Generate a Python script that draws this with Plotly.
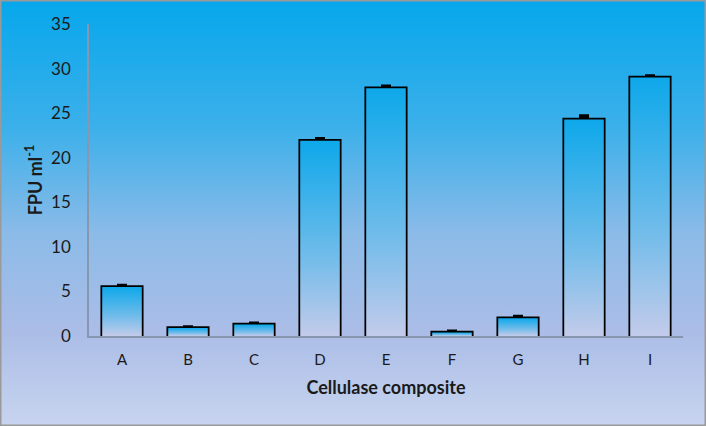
import base64
import plotly.graph_objects as go

# ---- data ----
categories = ["A", "B", "C", "D", "E", "F", "G", "H", "I"]
values = [5.5, 0.9, 1.3, 21.9, 27.8, 0.4, 2.0, 24.3, 29.0]
errors = [0.15, 0.08, 0.1, 0.2, 0.2, 0.1, 0.15, 0.35, 0.15]
y_ticks = [0, 5, 10, 15, 20, 25, 30, 35]

W, H = 706, 426
positions = list(range(len(categories)))
BAR_W = 0.6

fig = go.Figure()

# gradient fill of each bar (scatter area with vertical gradient)
for i, v in zip(positions, values):
    fig.add_trace(go.Scatter(
        x=[i - BAR_W / 2, i + BAR_W / 2, i + BAR_W / 2, i - BAR_W / 2, i - BAR_W / 2],
        y=[0, 0, v, v, 0],
        mode="lines", line=dict(width=0), fill="toself",
        fillgradient=dict(type="vertical",
                          colorscale=[[0, "#c3cbea"], [0.4, "#72bcea"], [1, "#0ea8ea"]]),
        hoverinfo="skip", showlegend=False))

# outlined bars with error bars
fig.add_trace(go.Bar(
    x=positions, y=values, width=BAR_W,
    marker=dict(color="rgba(0,0,0,0)", line=dict(color="black", width=3.5)),
    error_y=dict(type="data", array=errors, visible=True, color="black",
                 thickness=4, width=5),
    showlegend=False))

# background gradient as an SVG image covering the whole figure
svg = f'''<svg xmlns="http://www.w3.org/2000/svg" width="{W}" height="{H}" preserveAspectRatio="none">
<defs><linearGradient id="g" x1="0" y1="0" x2="0" y2="1">
<stop offset="0" stop-color="#06a7ec"/>
<stop offset="0.3" stop-color="#3cb0ea"/>
<stop offset="0.55" stop-color="#8cbbe8"/>
<stop offset="0.78" stop-color="#abbde7"/>
<stop offset="1" stop-color="#c8d4ef"/>
</linearGradient></defs>
<rect width="{W}" height="{H}" fill="url(#g)"/>
</svg>'''
src = "data:image/svg+xml;base64," + base64.b64encode(svg.encode()).decode()

x0, x1 = 89 / W, 683 / W
y0, y1 = (H - 336) / H, (H - 24) / H

fig.update_layout(
    width=W, height=H,
    margin=dict(l=0, r=0, t=0, b=0, autoexpand=False),
    paper_bgcolor="#c9d5ef", plot_bgcolor="rgba(0,0,0,0)",
    font=dict(family="Lato, 'Open Sans', sans-serif", color="#1a1a1a", size=16),
    bargap=0.4,
    images=[dict(source=src, xref="paper", yref="paper", x=0, y=1,
                 sizex=1, sizey=1, sizing="stretch", layer="below",
                 xanchor="left", yanchor="top")],
    xaxis=dict(domain=[x0, x1], range=[-0.5, len(categories) - 0.5],
               tickmode="array", tickvals=positions, ticktext=categories,
               tickfont=dict(size=15), automargin=False,
               showgrid=False, zeroline=False, showline=True,
               linecolor="#8797b0", linewidth=1.5, ticks="", ticklabelstandoff=9,
               title=dict(text="<b>Cellulase composite</b>", font=dict(size=18),
                          standoff=15)),
    yaxis=dict(domain=[y0, y1], range=[0, 35], tickmode="array", tickvals=y_ticks,
               tickfont=dict(size=17), automargin=False,
               showgrid=False, zeroline=False, showline=True,
               linecolor="#8797b0", linewidth=1.5, ticks="", ticklabelstandoff=13,
               title=dict(text="<b>FPU ml<sup>-1</sup></b>", font=dict(size=18),
                          standoff=4)),
    shapes=[dict(type="rect", xref="paper", yref="paper", x0=0, x1=1, y0=0, y1=1,
                 line=dict(color="#9a9a9a", width=3), fillcolor="rgba(0,0,0,0)")],
)

post = (
    "document.documentElement.style.cssText='margin:0;padding:0;overflow:hidden;';"
    "document.body.style.cssText='margin:0;padding:0;overflow:hidden;';"
    "var d=document.querySelector('.plotly-graph-div');"
    "d.style.position='absolute';d.style.top='0px';d.style.left='0px';"
)

fig.write_html("out.html", config={"displayModeBar": False}, post_script=post)
